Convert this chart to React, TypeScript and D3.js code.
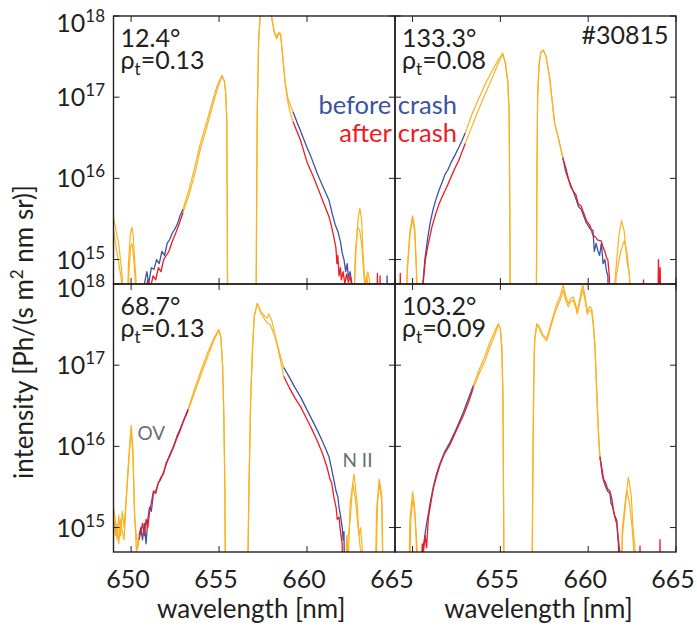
import React from 'react';
import * as d3 from 'd3';

type P = [number, number]; // [wavelength nm, log10 intensity (Ph/(s m^2 nm sr))]

const X_DOMAIN: [number, number] = [649, 665];
const Y_DOMAIN: [number, number] = [5e14, 1e18];
const X_TICKS = [650, 655, 660, 665];
const Y_TICKS = [1e15, 1e16, 1e17, 1e18];

const TL_BEFORE: P[] = [
  [649.0,15.52],[649.15,15.35],[649.3,15.19],[649.42,14.95],[649.5,14.78],[649.56,14.0],
  [649.74,14.0],[649.85,14.95],[649.95,15.3],[650.04,15.40],[650.12,15.3],[650.2,15.0],[650.28,14.75],[650.33,14.0],
  [650.6,14.0],[650.7,14.65],[650.9,14.85],[651.0,14.7],[651.15,14.9],[651.3,14.88],[651.45,15.0],[651.6,14.95],[651.75,15.1],[651.9,15.05],[652.05,15.2],[652.2,15.25],[652.35,15.33],[652.5,15.38],[652.65,15.45],[652.8,15.55],[652.95,15.62],
  [653.3,15.87],[653.6,16.12],[653.94,16.43],[654.3,16.7],[654.6,16.93],[654.9,17.15],[655.17,17.27],[655.3,17.2],[655.38,17.05],[655.44,16.72],[655.47,15.5],[655.49,14.0],
  [657.1,14.0],[657.13,15.5],[657.17,16.8],[657.25,17.7],[657.35,18.05],[657.6,18.2],[657.9,18.1],[658.0,17.98],[658.15,17.8],[658.28,17.74],[658.4,17.8],[658.5,17.78],[658.6,17.55],[658.75,17.2],[658.9,17.0],[659.05,16.9],[659.2,16.82],
  [659.6,16.6],[660.0,16.38],[660.2,16.28],[660.6,16.05],[660.9,15.9],[661.25,15.73],[661.45,15.55],[661.6,15.43],[661.75,15.35],[661.9,15.22],[662.0,15.08],[662.1,15.0],[662.2,14.85],[662.28,14.95],[662.35,14.78],[662.45,14.85],[662.55,14.7],[662.6,14.0],
  [662.75,15.0],[662.9,15.5],[663.0,15.63],[663.1,15.5],[663.2,15.0],[663.3,14.7],[663.45,14.85],[663.55,14.75],[663.65,14.0],
  [664.5,14.0],[664.55,14.8],[664.6,14.0],[665.0,14.0],
];
const TL_AFTER: P[] = [
  [649.0,15.36],[649.15,15.15],[649.3,14.95],[649.45,14.75],[649.5,14.0],
  [649.78,14.0],[649.88,14.85],[649.97,15.15],[650.05,15.2],[650.13,15.05],[650.22,14.8],[650.3,14.0],
  [650.65,14.0],[650.8,14.6],[650.95,14.75],[651.1,14.65],[651.25,14.8],[651.4,14.75],[651.55,14.9],[651.7,14.85],[651.85,15.0],[652.0,15.05],[652.15,15.1],[652.3,15.2],[652.45,15.28],[652.6,15.36],[652.75,15.45],[652.95,15.58],
  [653.3,15.8],[653.6,16.04],[653.94,16.36],[654.3,16.63],[654.6,16.87],[654.9,17.1],[655.15,17.25],[655.3,17.2],[655.38,17.05],[655.44,16.72],[655.47,15.5],[655.49,14.0],
  [657.1,14.0],[657.13,15.5],[657.17,16.8],[657.25,17.7],[657.35,18.05],[657.6,18.2],[657.9,18.1],[658.0,17.96],[658.15,17.78],[658.28,17.72],[658.4,17.78],[658.5,17.76],[658.6,17.53],[658.75,17.18],[658.9,16.95],[659.05,16.8],[659.2,16.7],
  [659.63,16.47],[660.0,16.2],[660.3,16.05],[660.58,15.9],[660.9,15.72],[661.26,15.52],[661.4,15.4],[661.5,15.3],[661.64,15.15],[661.7,14.95],[661.75,15.05],[661.82,14.8],[661.9,14.9],[661.95,14.75],[662.05,14.85],[662.15,14.7],[662.25,14.82],[662.35,14.72],[662.45,14.8],[662.55,14.65],[662.6,14.0],
  [662.75,15.1],[662.88,15.4],[663.0,15.35],[663.1,15.2],[663.2,14.9],[663.3,14.6],[663.4,14.8],[663.5,14.6],[663.6,14.0],
  [663.95,14.0],[664.0,14.83],[664.05,14.0],[664.12,14.0],[664.15,14.8],[664.2,14.0],[665.0,14.0],
];
const TL_RANGES: P[] = [[650.6,652.95],[659.2,662.6],[663.7,665.1]];

const TR_BEFORE: P[] = [
  [649.0,14.0],[649.58,14.0],[649.7,14.9],[649.85,15.35],[650.0,15.54],[650.12,15.4],[650.22,14.9],[650.32,14.0],
  [650.45,14.0],[650.55,14.6],[650.7,15.0],[650.85,15.25],[651.0,15.45],[651.15,15.6],[651.3,15.72],[651.5,15.85],[651.68,15.95],[651.85,16.05],[652.0,16.1],[652.2,16.2],[652.4,16.28],[652.63,16.38],[652.8,16.46],[653.0,16.56],
  [653.4,16.8],[653.8,17.0],[654.2,17.19],[654.6,17.35],[654.9,17.47],[655.14,17.54],[655.28,17.42],[655.42,17.2],[655.5,16.8],[655.54,15.5],[655.56,14.0],
  [657.04,14.0],[657.08,16.0],[657.12,17.0],[657.2,17.4],[657.3,17.55],[657.44,17.58],[657.6,17.5],[657.8,17.25],[657.95,16.95],[658.09,16.68],[658.3,16.5],[658.56,16.26],
  [658.7,16.1],[658.85,16.0],[659.0,15.92],[659.13,15.85],[659.3,15.75],[659.45,15.65],[659.6,15.62],[659.7,15.56],[659.9,15.45],[660.1,15.38],[660.27,15.36],[660.35,15.1],[660.45,15.2],[660.55,15.11],[660.65,15.05],[660.75,15.2],[660.85,14.95],[660.95,15.0],[661.05,14.85],[661.12,14.8],[661.2,14.0],
  [661.32,14.0],[661.55,14.8],[661.75,15.3],[661.9,15.48],[662.05,15.35],[662.2,15.0],[662.35,14.8],[662.5,14.0],[665.0,14.0],
];
const TR_AFTER: P[] = [
  [649.0,14.0],[649.25,14.0],[649.3,14.83],[649.35,14.0],[649.58,14.0],[649.7,14.85],[649.85,15.3],[650.0,15.5],[650.12,15.35],[650.22,14.85],[650.32,14.0],
  [650.5,14.0],[650.6,14.7],[650.73,15.0],[650.9,15.2],[651.1,15.4],[651.3,15.55],[651.5,15.68],[651.68,15.77],[651.85,15.85],[652.0,15.92],[652.2,16.02],[652.4,16.12],[652.63,16.22],[652.8,16.32],[653.0,16.43],
  [653.4,16.65],[653.8,16.87],[654.2,17.07],[654.6,17.27],[654.9,17.43],[655.14,17.53],[655.28,17.42],[655.42,17.2],[655.5,16.8],[655.54,15.5],[655.56,14.0],
  [657.04,14.0],[657.08,16.0],[657.12,17.0],[657.2,17.4],[657.3,17.55],[657.44,17.58],[657.6,17.5],[657.8,17.25],[657.95,16.95],[658.09,16.68],[658.3,16.5],[658.56,16.24],
  [658.7,16.15],[658.85,16.02],[659.0,15.9],[659.13,15.85],[659.3,15.8],[659.45,15.68],[659.6,15.66],[659.7,15.6],[659.9,15.48],[660.1,15.42],[660.27,15.3],[660.4,15.28],[660.55,15.24],[660.74,15.23],[660.85,15.15],[660.95,15.1],[661.05,15.02],[661.12,15.0],[661.2,14.8],[661.3,14.0],
  [661.35,14.0],[661.6,14.8],[661.85,15.1],[662.05,15.23],[662.2,15.1],[662.35,14.8],[662.5,14.0],
  [663.1,14.0],[663.15,14.75],[663.2,14.0],[663.95,14.0],[664.0,15.0],[664.05,14.6],[664.1,14.9],[664.15,14.0],[665.0,14.0],
];
const TR_RANGES: P[] = [[649.1,649.5],[650.4,653.0],[658.56,661.3],[662.9,665.1]];

const BL_BEFORE: P[] = [
  [649.0,15.25],[649.1,15.1],[649.2,14.85],[649.3,15.15],[649.4,14.9],[649.5,15.2],[649.6,15.0],[649.7,15.3],[649.85,15.8],[650.0,16.26],[650.1,16.0],[650.2,15.2],[650.3,14.7],[650.36,14.76],[650.45,14.9],
  [650.55,15.0],[650.65,14.85],[650.75,15.05],[650.85,14.8],[650.95,15.1],[651.05,15.25],[651.15,15.2],[651.27,15.42],[651.4,15.45],[651.55,15.55],[651.7,15.6],[651.84,15.68],[652.0,15.78],[652.2,15.9],[652.41,16.0],[652.6,16.12],[652.8,16.22],[653.0,16.33],[653.24,16.46],
  [653.6,16.7],[654.0,16.95],[654.4,17.18],[654.7,17.33],[654.98,17.44],[655.1,17.35],[655.2,17.0],[655.27,16.4],[655.33,15.5],[655.37,14.0],
  [656.6,14.0],[656.7,15.5],[656.8,16.6],[656.9,17.2],[657.0,17.6],[657.17,17.76],[657.4,17.65],[657.6,17.6],[657.74,17.58],[657.83,17.63],[658.0,17.55],[658.15,17.4],[658.3,17.27],[658.5,17.1],[658.68,16.97],
  [659.0,16.85],[659.3,16.73],[659.63,16.61],[660.0,16.45],[660.3,16.32],[660.58,16.2],[660.9,16.05],[661.1,15.95],[661.25,15.87],[661.4,15.72],[661.53,15.58],[661.65,15.45],[661.75,15.38],[661.82,15.25],[661.9,15.15],[662.0,15.0],[662.05,14.85],[662.1,14.95],[662.15,14.0],
  [662.25,14.9],[662.35,14.6],[662.45,15.3],[662.67,15.66],[662.85,15.3],[662.95,14.9],[663.05,15.0],[663.15,14.7],[663.2,14.0],
  [663.85,14.0],[663.95,15.2],[664.1,15.6],[664.25,15.4],[664.35,14.0],[665.0,14.0],
];
const BL_AFTER: P[] = [
  [649.0,15.15],[649.1,14.9],[649.2,15.05],[649.3,14.8],[649.4,15.1],[649.5,14.95],[649.6,14.85],[649.7,15.25],[649.85,15.75],[650.0,16.2],[650.1,15.9],[650.2,15.1],[650.3,14.9],[650.38,14.75],[650.45,14.85],
  [650.55,14.95],[650.65,15.05],[650.75,14.9],[650.85,15.1],[650.95,15.0],[651.05,15.2],[651.15,15.3],[651.27,15.45],[651.4,15.42],[651.55,15.55],[651.7,15.62],[651.84,15.66],[652.0,15.8],[652.2,15.88],[652.41,15.99],[652.6,16.1],[652.8,16.2],[653.0,16.32],[653.24,16.44],
  [653.6,16.66],[654.0,16.9],[654.4,17.13],[654.7,17.3],[654.98,17.43],[655.1,17.35],[655.2,17.0],[655.27,16.4],[655.33,15.5],[655.37,14.0],
  [656.6,14.0],[656.7,15.5],[656.8,16.6],[656.9,17.2],[657.0,17.6],[657.17,17.76],[657.4,17.63],[657.6,17.56],[657.74,17.52],[657.9,17.5],[658.0,17.45],[658.15,17.37],[658.3,17.25],[658.5,17.05],[658.68,16.86],
  [659.0,16.72],[659.3,16.6],[659.63,16.49],[660.0,16.33],[660.3,16.2],[660.58,16.07],[660.9,15.9],[661.14,15.74],[661.3,15.6],[661.4,15.55],[661.53,15.37],[661.65,15.25],[661.72,15.1],[661.82,15.13],[661.9,14.95],[662.0,14.8],[662.05,14.0],
  [662.15,14.0],[662.3,14.8],[662.45,15.1],[662.6,15.54],[662.75,15.35],[662.9,15.0],[663.0,14.8],[663.1,14.6],[663.15,14.0],
  [663.9,14.0],[664.0,15.3],[664.12,15.55],[664.25,15.3],[664.35,14.0],[665.0,14.0],
];
const BL_RANGES: P[] = [[650.45,653.24],[658.68,662.15]];

const BR_BEFORE: P[] = [
  [649.0,14.0],[649.75,14.0],[649.85,15.1],[650.0,15.44],[650.1,15.3],[650.18,15.0],[650.3,14.6],[650.4,14.0],
  [650.5,14.0],[650.6,14.75],[650.7,14.9],[650.8,15.05],[650.9,15.17],[651.0,15.3],[651.18,15.5],[651.35,15.65],[651.56,15.79],[651.8,15.92],[652.13,16.05],[652.5,16.22],[652.89,16.42],[653.2,16.6],[653.46,16.75],
  [653.8,16.95],[654.1,17.1],[654.4,17.28],[654.7,17.43],[654.88,17.51],[655.0,17.45],[655.08,17.23],[655.15,16.6],[655.19,15.0],[655.21,14.0],
  [656.8,14.0],[656.84,15.5],[656.9,16.8],[656.95,17.3],[657.07,17.51],[657.2,17.48],[657.4,17.38],[657.64,17.33],[657.8,17.45],[658.0,17.6],[658.2,17.75],[658.4,17.85],[658.58,17.99],[658.72,17.85],[658.87,17.76],[659.0,17.82],[659.15,17.84],[659.28,17.75],[659.38,17.66],[659.55,17.85],[659.69,18.0],[659.82,17.85],[659.95,17.66],[660.08,17.72],[660.2,17.7],[660.3,17.5],[660.39,17.23],[660.5,16.6],[660.6,16.1],[660.67,15.87],
  [660.8,15.65],[660.87,15.58],[661.0,15.5],[661.1,15.45],[661.24,15.42],[661.3,15.3],[661.4,15.25],[661.5,15.15],[661.63,15.09],[661.68,14.9],[661.72,14.8],[661.78,14.0],
  [661.85,14.0],[661.95,15.0],[662.1,15.3],[662.29,15.62],[662.45,15.4],[662.55,15.0],[662.65,14.8],[662.75,14.0],[665.0,14.0],
];
const BR_AFTER: P[] = [
  [649.0,14.0],[649.8,14.0],[649.9,15.1],[650.02,15.35],[650.12,15.2],[650.2,14.9],[650.3,14.0],
  [650.45,14.0],[650.55,14.8],[650.62,14.7],[650.72,14.9],[650.8,14.75],[650.9,15.12],[651.0,15.25],[651.18,15.48],[651.35,15.62],[651.56,15.77],[651.8,15.9],[652.13,16.02],[652.5,16.2],[652.89,16.38],[653.2,16.55],[653.46,16.72],
  [653.8,16.9],[654.1,17.04],[654.4,17.22],[654.7,17.38],[654.88,17.5],[655.0,17.45],[655.08,17.23],[655.15,16.6],[655.19,15.0],[655.21,14.0],
  [656.8,14.0],[656.84,15.5],[656.9,16.8],[656.95,17.3],[657.07,17.5],[657.2,17.46],[657.4,17.36],[657.64,17.3],[657.8,17.42],[658.0,17.57],[658.2,17.7],[658.4,17.8],[658.58,17.92],[658.72,17.8],[658.87,17.72],[659.0,17.78],[659.15,17.8],[659.28,17.72],[659.38,17.63],[659.55,17.8],[659.69,17.93],[659.82,17.8],[659.95,17.63],[660.08,17.68],[660.2,17.66],[660.3,17.47],[660.39,17.2],[660.5,16.6],[660.6,16.1],[660.67,15.87],
  [660.8,15.7],[660.87,15.6],[661.0,15.55],[661.1,15.48],[661.24,15.45],[661.35,15.35],[661.45,15.2],[661.55,15.1],[661.63,15.05],[661.72,14.85],[661.8,14.7],[661.85,14.0],
  [661.95,14.9],[662.2,15.46],[662.35,15.3],[662.5,15.0],[662.6,14.7],[662.7,14.0],
  [662.9,14.0],[662.95,14.77],[663.0,14.0],[664.05,14.0],[664.09,14.85],[664.12,14.0],[665.0,14.0],
];
const BR_RANGES: P[] = [[650.45,653.46],[660.67,661.85],[662.8,665.1]];

const ANGLES = ['12.4', '133.3', '68.7', '103.2'];
const RHOS = ['0.13', '0.08', '0.13', '0.09'];
const LEGEND = ['before crash', 'after crash'];
const SHOT = '#30815';

const ORANGE = '#fbb124';
const BLUE = '#3a53a4';
const RED = '#ed1c24';
const GREY = '#6d6e71';
const INK = '#231f20';
const FONT = "Lato, 'Open Sans', 'DejaVu Sans', sans-serif";

const COLS: [number, number][] = [[113.5, 395], [395, 676]];
const ROWS: [number, number][] = [[16, 284], [284, 552]];

const PANELS = [
  { before: TL_BEFORE, after: TL_AFTER, ranges: TL_RANGES, col: 0, row: 0 },
  { before: TR_BEFORE, after: TR_AFTER, ranges: TR_RANGES, col: 1, row: 0 },
  { before: BL_BEFORE, after: BL_AFTER, ranges: BL_RANGES, col: 0, row: 1 },
  { before: BR_BEFORE, after: BR_AFTER, ranges: BR_RANGES, col: 1, row: 1 },
];

function segments(pts: P[], ranges: P[]) {
  const out: { colored: boolean; pts: P[] }[] = [];
  for (let i = 0; i < pts.length - 1; i++) {
    const mid = (pts[i][0] + pts[i + 1][0]) / 2;
    const c = ranges.some(([a, b]) => mid >= a && mid <= b);
    const last = out[out.length - 1];
    if (last && last.colored === c) last.pts.push(pts[i + 1]);
    else out.push({ colored: c, pts: [pts[i], pts[i + 1]] });
  }
  return out;
}

function Panel({ p, idx }: { p: typeof PANELS[number]; idx: number }) {
  const [x0, x1] = COLS[p.col];
  const [y0, y1] = ROWS[p.row];
  const x = d3.scaleLinear().domain(X_DOMAIN).range([x0, x1]);
  const y = d3.scaleLog().domain(Y_DOMAIN).range([y1, y0]);
  const line = d3.line<P>().x(d => x(d[0])).y(d => y(Math.pow(10, d[1])));
  const bs = segments(p.before, p.ranges);
  const as = segments(p.after, p.ranges);
  const clipId = `clip${idx}`;
  const tl = 6;
  return (
    <g>
      <defs>
        <clipPath id={clipId}>
          <rect x={x0} y={y0 - 1} width={x1 - x0} height={y1 - y0 + 1} />
        </clipPath>
      </defs>
      <g clipPath={`url(#${clipId})`} fill="none" strokeLinejoin="round">
        {bs.filter(s => !s.colored).map((s, i) => <path key={'bo' + i} d={line(s.pts) || ''} stroke={ORANGE} strokeWidth={1.2} />)}
        {as.filter(s => !s.colored).map((s, i) => <path key={'ao' + i} d={line(s.pts) || ''} stroke={ORANGE} strokeWidth={1.2} />)}
        {bs.filter(s => s.colored).map((s, i) => <path key={'bc' + i} d={line(s.pts) || ''} stroke={BLUE} strokeWidth={1.3} />)}
        {as.filter(s => s.colored).map((s, i) => <path key={'ac' + i} d={line(s.pts) || ''} stroke={RED} strokeWidth={1.3} />)}
      </g>
      {X_TICKS.map(t => (
        <g key={'xt' + t} stroke={INK} strokeWidth={1}>
          <line x1={x(t)} x2={x(t)} y1={y1} y2={y1 - tl} />
          <line x1={x(t)} x2={x(t)} y1={y0} y2={y0 + tl} />
        </g>
      ))}
      {Y_TICKS.map(t => (
        <g key={'yt' + t} stroke={INK} strokeWidth={1}>
          <line x1={x0} x2={x0 + tl} y1={y(t)} y2={y(t)} />
          <line x1={x1} x2={x1 - tl} y1={y(t)} y2={y(t)} />
        </g>
      ))}
      <rect x={x0} y={y0} width={x1 - x0} height={y1 - y0} fill="none" stroke={INK} strokeWidth={1.4} />
      {p.col === 0 && Y_TICKS.map(t => {
        const e = Math.round(Math.log10(t));
        const off = e === 18 ? (p.row === 0 ? 7 : 4) : 0;
        return (
          <text key={'yl' + t} x={105} y={y(t) + 9 + off} textAnchor="end" fontSize={25} fill={INK}>
            10<tspan dy={-10} fontSize={17}>{e}</tspan>
          </text>
        );
      })}
      {p.row === 1 && X_TICKS.filter(t => p.col === 0 || t !== 650).map(t => (
        <text key={'xl' + t} x={x(t) - 3} y={588} textAnchor="middle" fontSize={25} fill={INK}>{t}</text>
      ))}
      {p.row === 1 && (
        <text x={(x0 + x1) / 2 - (p.col === 0 ? 3 : -3)} y={618} textAnchor="middle" fontSize={26} fill={INK}>wavelength [nm]</text>
      )}
      <text x={x0 + 7} y={y0 + 30.5} fontSize={25} fill={INK}>{ANGLES[idx]}°</text>
      <text x={x0 + 7} y={y0 + 52.5} fontSize={25} fill={INK}>
        ρ<tspan fontSize={17} dy={6}>t</tspan><tspan dy={-6}>={RHOS[idx]}</tspan>
      </text>
    </g>
  );
}

export default function App() {
  return (
    <svg width={697} height={626} viewBox="0 0 697 626"
      style={{ position: 'absolute', left: 0, top: 0, background: '#fff' }}
      fontFamily={FONT}>
      <rect x={0} y={0} width={697} height={626} fill="#fff" />
      {PANELS.map((p, i) => <Panel key={i} p={p} idx={i} />)}
      <text x={457} y={113.5} textAnchor="end" fontSize={25.5} fill={BLUE}>{LEGEND[0]}</text>
      <text x={457} y={141.5} textAnchor="end" fontSize={25.5} fill={RED}>{LEGEND[1]}</text>
      <text x={668.5} y={43.5} textAnchor="end" fontSize={25} fill={INK}>{SHOT}</text>
      <text x={137.5} y={440} fontSize={19} fill={GREY}>OV</text>
      <text x={342.5} y={466.5} fontSize={19} fill={GREY}>N II</text>
      <text transform="translate(33,332) rotate(-90)" textAnchor="middle" fontSize={26} fill={INK}>
        intensity [Ph/(s m<tspan dy={-10} fontSize={17}>2</tspan><tspan dy={10}> nm sr)]</tspan>
      </text>
    </svg>
  );
}
